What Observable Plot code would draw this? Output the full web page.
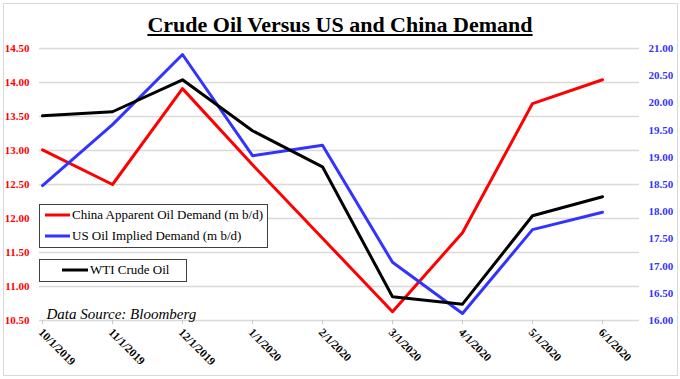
<!DOCTYPE html>
<html>
<head>
<meta charset="utf-8">
<script src="https://cdn.jsdelivr.net/npm/d3@7"></script>
<script src="https://cdn.jsdelivr.net/npm/@observablehq/plot@0.6"></script>
<style>
  html, body { margin: 0; padding: 0; background: #fff; }
  #wrap { position: relative; width: 680px; height: 379px; overflow: hidden; }
  #border { position: absolute; left: 3px; top: 3px; width: 673px; height: 371px; border: 1px solid #d9d9d9; pointer-events: none; }
  #title { height: 25px; padding-top: 13px; line-height: 24px; text-align: center;
           font-family: "Liberation Serif", "Times New Roman", serif; font-weight: bold; font-size: 22px;
           text-decoration: underline; text-underline-offset: 2px; color: #000; }
  #chart svg { display: block; }
</style>
</head>
<body>
<div id="wrap">
  <div id="title">Crude Oil Versus US and China Demand</div>
  <div id="chart"></div>
  <div id="border"></div>
</div>
<script>
const dates = ["10/1/2019","11/1/2019","12/1/2019","1/1/2020","2/1/2020","3/1/2020","4/1/2020","5/1/2020","6/1/2020"];
const chinaDemand = [13.01, 12.50, 13.91, 12.79, 11.71, 10.63, 11.79, 13.69, 14.04];
const usDemand    = [18.48, 19.60, 20.89, 19.03, 19.22, 17.07, 16.13, 17.67, 17.99];
const wtiCrude    = [13.51, 13.57, 14.04, 13.29, 12.76, 10.85, 10.74, 12.04, 12.32];
const leftTicks  = [10.5, 11.0, 11.5, 12.0, 12.5, 13.0, 13.5, 14.0, 14.5];
const rightTicks = [16.0, 16.5, 17.0, 17.5, 18.0, 18.5, 19.0, 19.5, 20.0, 20.5, 21.0];
const seriesNames  = ["China Apparent Oil Demand (m b/d)", "US Oil Implied Demand (m b/d)", "WTI Crude Oil"];
const seriesColors = ["#ff0000", "#3333ff", "#000000"];
const sourceNote = "Data Source: Bloomberg";

// right axis (16–21) mapped onto the left scale (10.5–14.5)
const rightDomain = [16, 21], leftDomain = [10.5, 14.5];
const toLeft = v => leftDomain[0] + (v - rightDomain[0]) * (leftDomain[1] - leftDomain[0]) / (rightDomain[1] - rightDomain[0]);
const fromLeft = v => rightDomain[0] + (v - leftDomain[0]) * (rightDomain[1] - rightDomain[0]) / (leftDomain[1] - leftDomain[0]);

const china = dates.map((d, i) => ({date: d, value: chinaDemand[i]}));
const us    = dates.map((d, i) => ({date: d, value: usDemand[i]}));
const wti   = dates.map((d, i) => ({date: d, value: wtiCrude[i]}));

const serif = "'Liberation Serif', 'Times New Roman', serif";
const fmt = d3.format(".2f");

function legend(index, scales, values, dimensions) {
  const g = d3.create("svg:g").attr("font-family", serif).attr("font-size", 13).attr("text-anchor", "start");
  const box = (x, y, w, h) => g.append("rect").attr("x", x).attr("y", y).attr("width", w).attr("height", h)
      .attr("fill", "#fff").attr("stroke", "#404040").attr("stroke-width", 1);
  const item = (x1, x2, y, color, label) => {
    g.append("line").attr("x1", x1).attr("x2", x2).attr("y1", y).attr("y2", y)
      .attr("stroke", color).attr("stroke-width", 3);
    g.append("text").attr("x", x2 + 2).attr("y", y).attr("dy", "0.33em").attr("fill", "#000").text(label);
  };
  box(39.5, 166.5, 228, 43);
  item(45, 70, 177, seriesColors[0], seriesNames[0]);
  item(45, 70, 198, seriesColors[1], seriesNames[1]);
  box(39.5, 221.5, 147, 22);
  item(62, 88, 232, seriesColors[2], seriesNames[2]);
  return g.node();
}

const chart = Plot.plot({
  width: 680,
  height: 341,
  marginTop: 10,
  marginBottom: 59,
  marginLeft: 39,
  marginRight: 41,
  style: {fontFamily: serif, background: "transparent"},
  x: {type: "point", domain: dates, range: [39, 604], padding: 0},
  y: {domain: leftDomain},
  marks: [
    Plot.gridY(leftTicks, {stroke: "#d9d9d9", strokeOpacity: 1, strokeWidth: 1.5}),
    Plot.axisY(leftTicks, {anchor: "left", tickSize: 0, tickPadding: 10, tickFormat: fmt,
      fill: seriesColors[0], fontWeight: "bold", fontSize: 11, fontFamily: serif, label: null}),
    Plot.axisY(rightTicks.map(toLeft), {anchor: "right", tickSize: 0, tickPadding: 9,
      tickFormat: d => fmt(fromLeft(d)), fill: seriesColors[1], fontWeight: "bold", fontSize: 11, fontFamily: serif, label: null}),
    Plot.axisX({tickSize: 4, tickPadding: 6, tickRotate: 45, stroke: "#c8c8c8", fill: "#000", text: null, label: null}),
    Plot.axisX({tickSize: 0, tickPadding: 10, tickRotate: 45, dx: -2, fill: "#000",
      fontWeight: "bold", fontSize: 11.5, fontFamily: serif, label: null}),
    Plot.line(china, {x: "date", y: "value", stroke: seriesColors[0], strokeWidth: 3}),
    Plot.line(us, {x: "date", y: d => toLeft(d.value), stroke: seriesColors[1], strokeWidth: 3}),
    Plot.line(wti, {x: "date", y: "value", stroke: seriesColors[2], strokeWidth: 3}),
    legend,
    Plot.text([sourceNote], {frameAnchor: "bottom-left", textAnchor: "start", lineAnchor: "bottom", dx: 7, dy: -2,
      fontStyle: "italic", fontSize: 15, fontFamily: serif, fill: "#000"})
  ]
});
document.getElementById("chart").appendChild(chart);
</script>
</body>
</html>
